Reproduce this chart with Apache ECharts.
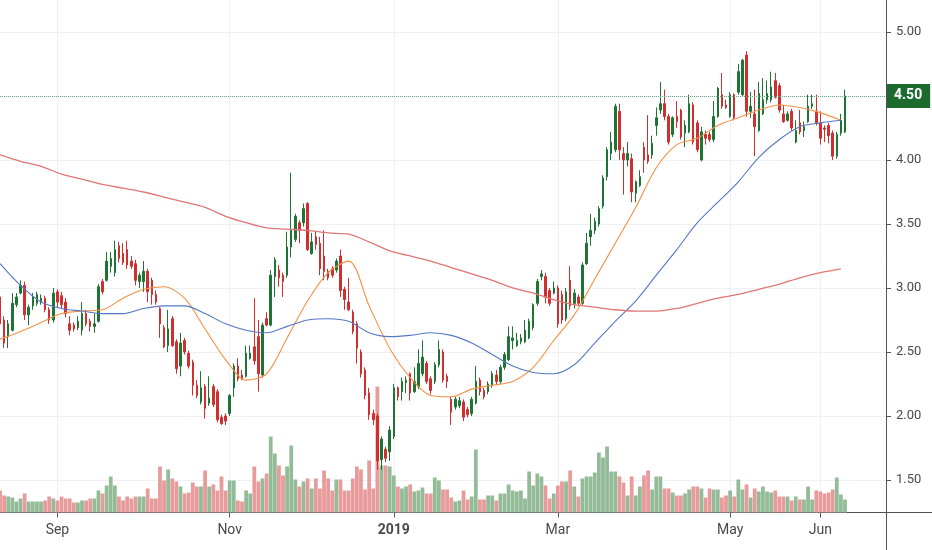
<!DOCTYPE html>
<html>
<head>
<meta charset="utf-8">
<script src="https://cdn.jsdelivr.net/npm/echarts/dist/echarts.min.js"></script>
<style>
html,body{margin:0;padding:0;background:#fff}
#chart{width:932px;height:550px}
</style>
</head>
<body>
<div id="chart"></div>
<script>
// daily bars, first one on 2018-08-14; rows are [open, high, low, close]
var startDate = '2018-08-14';
var holidays = ['2018-09-03','2018-11-22','2018-12-05','2018-12-25','2019-01-01','2019-01-21','2019-02-18','2019-04-19','2019-05-27'];
var padBars = 10;

var ohlc = [
  [2.93,2.95,2.68,2.72],[2.75,2.78,2.53,2.57],[2.62,2.75,2.53,2.72],[2.67,2.96,2.66,2.88],[2.87,2.96,2.85,2.93],
  [2.96,3.06,2.95,3.02],[3.02,3.05,2.75,2.79],[2.79,2.87,2.71,2.85],[2.86,2.96,2.83,2.93],[2.88,2.97,2.86,2.95],
  [2.89,2.95,2.87,2.92],[2.92,2.94,2.81,2.83],[2.83,2.85,2.72,2.75],[2.75,3.00,2.73,2.96],[2.97,2.99,2.85,2.89],
  [2.94,2.97,2.84,2.87],[2.89,2.92,2.77,2.80],[2.72,2.78,2.63,2.67],[2.71,2.73,2.66,2.68],[2.69,2.78,2.67,2.74],
  [2.67,2.89,2.63,2.80],[2.80,2.83,2.70,2.72],[2.74,2.76,2.66,2.70],[2.70,2.80,2.65,2.72],[2.74,3.03,2.73,3.01],
  [3.05,3.07,2.95,2.97],[3.06,3.28,3.05,3.21],[3.17,3.28,3.12,3.23],[3.12,3.37,3.09,3.30],[3.33,3.36,3.20,3.23],
  [3.27,3.35,3.18,3.20],[3.30,3.37,3.15,3.18],[3.21,3.25,3.15,3.17],[3.19,3.22,3.02,3.06],[3.05,3.12,3.00,3.10],
  [3.05,3.21,2.97,3.13],[3.13,3.15,2.89,2.97],[3.06,3.08,2.87,2.95],[2.95,2.98,2.87,2.89],[2.84,2.85,2.61,2.72],
  [2.69,2.71,2.53,2.54],[2.55,2.83,2.50,2.68],[2.76,2.78,2.54,2.55],[2.58,2.60,2.33,2.37],[2.39,2.65,2.31,2.57],
  [2.59,2.61,2.48,2.50],[2.49,2.51,2.37,2.39],[2.42,2.44,2.16,2.24],[2.24,2.28,2.14,2.16],[2.11,2.35,2.09,2.22],
  [2.23,2.25,1.98,2.06],[2.10,2.31,2.08,2.14],[2.23,2.25,2.07,2.09],[2.19,2.21,1.95,1.97],[1.99,2.01,1.93,1.94],
  [2.00,2.02,1.93,1.96],[2.02,2.17,2.00,2.16],[2.22,2.41,2.15,2.39],[2.39,2.45,2.27,2.29],[2.32,2.36,2.28,2.29],
  [2.31,2.55,2.30,2.49],[2.45,2.55,2.44,2.49],[2.54,2.92,2.40,2.43],[2.62,2.75,2.19,2.33],[2.32,2.73,2.30,2.71],
  [2.76,2.81,2.70,2.71],[2.71,3.14,2.70,3.10],[3.09,3.24,2.93,3.22],[3.14,3.18,3.01,3.08],[3.10,3.12,2.93,3.05],
  [3.10,3.44,3.08,3.32],[3.32,3.90,3.24,3.45],[3.38,3.58,3.36,3.56],[3.51,3.53,3.35,3.45],[3.51,3.66,3.48,3.62],
  [3.66,3.67,3.29,3.30],[3.27,3.43,3.26,3.36],[3.40,3.44,3.30,3.34],[3.35,3.40,3.10,3.15],[3.25,3.45,3.06,3.13],
  [3.13,3.15,3.06,3.08],[3.15,3.17,3.08,3.10],[3.14,3.23,3.12,3.21],[3.25,3.30,2.93,2.98],[2.99,3.01,2.83,2.91],
  [2.89,3.08,2.82,2.83],[2.81,2.83,2.64,2.66],[2.72,2.74,2.41,2.53],[2.50,2.52,2.30,2.33],[2.36,2.38,2.13,2.16],
  [2.18,2.22,1.97,2.01],[2.02,2.05,1.93,1.97],[2.00,2.02,1.58,1.65],[1.66,1.84,1.58,1.82],[1.74,1.76,1.64,1.67],
  [1.72,1.92,1.65,1.89],[1.84,2.25,1.82,2.22],[2.22,2.23,2.12,2.15],[2.19,2.30,2.12,2.27],[2.26,2.31,2.18,2.28],
  [2.33,2.34,2.12,2.18],[2.19,2.38,2.18,2.27],[2.23,2.52,2.21,2.41],[2.33,2.59,2.31,2.46],[2.41,2.43,2.25,2.27],
  [2.29,2.31,2.17,2.20],[2.27,2.42,2.25,2.40],[2.40,2.59,2.38,2.52],[2.50,2.52,2.26,2.28],[2.31,2.33,2.22,2.27],
  [2.13,2.15,1.93,2.03],[2.07,2.15,2.05,2.13],[2.08,2.15,2.06,2.12],[2.11,2.13,1.96,1.99],[2.05,2.07,1.99,2.01],
  [2.02,2.15,2.00,2.13],[2.10,2.39,2.09,2.27],[2.28,2.30,2.16,2.19],[2.20,2.22,2.13,2.15],[2.19,2.27,2.17,2.25],
  [2.24,2.35,2.22,2.33],[2.32,2.36,2.24,2.27],[2.27,2.40,2.25,2.38],[2.38,2.50,2.36,2.48],[2.44,2.70,2.43,2.62],
  [2.59,2.70,2.52,2.61],[2.55,2.65,2.54,2.59],[2.58,2.64,2.56,2.61],[2.58,2.75,2.57,2.67],[2.61,2.76,2.60,2.74],
  [2.69,2.88,2.67,2.87],[2.88,3.07,2.86,3.05],[3.09,3.14,3.06,3.11],[3.09,3.12,2.88,2.93],[2.98,3.00,2.86,2.88],
  [2.96,3.05,2.95,3.00],[3.00,3.02,2.69,2.72],[2.95,2.98,2.72,2.75],[2.76,3.00,2.74,2.97],[3.06,3.17,2.83,2.86],
  [2.88,2.99,2.84,2.96],[2.93,2.95,2.86,2.88],[2.88,3.20,2.87,3.18],[3.19,3.43,3.18,3.35],[3.40,3.58,3.33,3.45],
  [3.45,3.55,3.42,3.52],[3.50,3.64,3.48,3.62],[3.64,3.88,3.62,3.86],[3.87,4.10,3.84,4.08],[4.05,4.22,4.00,4.14],
  [4.08,4.44,4.06,4.42],[4.38,4.44,4.00,4.08],[4.05,4.10,3.73,4.00],[4.00,4.14,3.95,4.05],[4.01,4.05,3.67,3.75],
  [3.74,3.84,3.67,3.83],[3.80,3.92,3.79,3.87],[4.10,4.14,3.90,4.00],[4.04,4.35,3.97,3.99],[4.04,4.19,4.01,4.13],
  [4.27,4.41,4.19,4.33],[4.39,4.61,4.36,4.44],[4.44,4.55,4.31,4.34],[4.34,4.36,4.12,4.14],[4.20,4.34,4.18,4.33],
  [4.34,4.46,4.25,4.30],[4.39,4.40,4.16,4.18],[4.21,4.31,4.10,4.27],[4.22,4.51,4.21,4.44],[4.43,4.45,4.12,4.14],
  [4.29,4.31,4.06,4.08],[4.00,4.26,3.99,4.22],[4.20,4.23,4.12,4.17],[4.20,4.22,4.14,4.16],[4.16,4.46,4.14,4.34],
  [4.34,4.57,4.33,4.56],[4.51,4.68,4.40,4.42],[4.43,4.47,4.40,4.41],[4.34,4.53,4.33,4.51],[4.51,4.52,4.31,4.33],
  [4.53,4.75,4.51,4.69],[4.51,4.79,4.50,4.78],[4.82,4.85,4.34,4.38],[4.38,4.53,4.33,4.42],[4.36,4.55,4.03,4.26],
  [4.23,4.61,4.22,4.52],[4.36,4.64,4.35,4.47],[4.47,4.62,4.44,4.52],[4.47,4.69,4.45,4.57],[4.62,4.68,4.48,4.49],
  [4.58,4.60,4.37,4.39],[4.36,4.43,4.29,4.30],[4.31,4.38,4.30,4.36],[4.38,4.40,4.23,4.25],[4.14,4.31,4.13,4.23],
  [4.29,4.39,4.20,4.22],[4.23,4.30,4.18,4.26],[4.30,4.51,4.29,4.42],[4.42,4.51,4.40,4.44],[4.38,4.51,4.27,4.29],
  [4.29,4.38,4.12,4.17],[4.25,4.27,4.14,4.24],[4.27,4.29,4.13,4.19],[4.21,4.23,4.00,4.03],[4.03,4.22,4.01,4.20],
  [4.21,4.36,4.19,4.31],[4.22,4.55,4.21,4.50]
];

// volume, arbitrary units
var volume = [
  22,17,16,15,11,14,19,11,11,11, 11,12,16,14,12,16,14,14,10,10,
  12,12,14,14,22,19,27,36,27,16, 12,16,14,16,16,16,24,14,14,46,
  32,43,34,31,26,19,20,30,26,26, 42,26,28,22,36,22,32,32,12,11,
  22,19,46,31,34,39,76,59,47,37, 46,67,33,26,31,34,24,34,24,42,
  34,22,33,33,22,22,34,46,43,23, 52,24,126,47,47,46,37,26,24,26,
  28,21,22,25,19,19,35,32,23,23, 15,11,12,22,13,16,63,13,13,17,
  17,12,19,19,28,22,21,22,14,41, 27,39,36,27,14,19,27,31,31,42,
  26,16,34,36,36,40,60,55,66,41, 41,36,30,17,36,17,26,37,42,23,
  36,36,24,24,20,17,17,19,23,26, 26,24,15,24,23,23,15,17,22,16,
  33,23,28,15,24,21,26,21,20,22, 16,16,16,12,16,13,13,26,13,22,
  21,19,20,23,35,18,13
];

// moving averages read every 5 bars
var maStep = 5;
var ma20 = [2.60,2.66,2.73,2.80,2.82,2.83,2.92,2.99,3.01,2.92,2.68,2.44,2.28,2.33,2.61,2.90,3.12,3.21,2.86,2.53,2.30,
            2.16,2.15,2.21,2.24,2.27,2.38,2.59,2.79,3.07,3.35,3.63,3.94,4.12,4.17,4.27,4.33,4.39,4.43,4.41,4.37,4.31];
var ma50 = [3.19,3.02,2.89,2.84,2.82,2.80,2.80,2.84,2.86,2.86,2.80,2.72,2.67,2.65,2.70,2.75,2.76,2.74,2.65,2.62,2.63,
            2.65,2.63,2.57,2.48,2.39,2.34,2.33,2.40,2.57,2.74,2.90,3.10,3.30,3.51,3.67,3.83,4.02,4.16,4.26,4.29,4.31];
var ma200 = [4.04,3.99,3.95,3.89,3.85,3.81,3.78,3.75,3.71,3.67,3.63,3.56,3.51,3.47,3.46,3.45,3.43,3.42,3.36,3.29,3.25,
             3.21,3.16,3.11,3.06,3.00,2.96,2.91,2.87,2.85,2.83,2.82,2.82,2.84,2.88,2.92,2.95,2.99,3.03,3.08,3.12,3.15];

var tickMonths = ['2018-09','2018-11','2019-01','2019-03','2019-05','2019-06'];
var tickLabels = ['Sep','Nov','2019','Mar','May','Jun'];

var upColor = '#1d7434', downColor = '#cf2f2f';
var volUp = '#93bb98', volDown = '#e79b9b';

function tradingDays(start, n) {
  var out = [], d = new Date(start + 'T00:00:00Z');
  while (out.length < n) {
    var s = d.toISOString().slice(0, 10), wd = d.getUTCDay();
    if (wd !== 0 && wd !== 6 && holidays.indexOf(s) < 0) out.push(s);
    d.setUTCDate(d.getUTCDate() + 1);
  }
  return out;
}

var dates = tradingDays(startDate, ohlc.length + padBars);

// first bar of each labelled month
var tickAt = {};
tickMonths.forEach(function (m, k) {
  for (var i = 0; i < dates.length; i++) {
    if (dates[i].slice(0, 7) === m) { tickAt[i] = tickLabels[k]; break; }
  }
});
function isTick(idx) { return tickAt[idx] !== undefined; }

function maData(vals) {
  var d = [];
  for (var i = 0; i < ohlc.length; i++) d.push(null);
  vals.forEach(function (v, k) { d[k * maStep] = v; });
  return d;
}

var candleData = ohlc.map(function (r) { return [r[0], r[3], r[2], r[1]]; });
var volData = volume.map(function (v, i) {
  return { value: v, itemStyle: { color: ohlc[i][3] >= ohlc[i][0] ? volUp : volDown } };
});
var lastClose = ohlc[ohlc.length - 1][3];

var myChart = echarts.init(document.getElementById('chart'));
var font = 'Roboto, "Noto Sans", sans-serif';

var option = {
  animation: false,
  backgroundColor: '#fff',
  textStyle: { fontFamily: font },
  grid: { left: 0, right: 46, top: 0, bottom: 37.5 },
  xAxis: {
    type: 'category',
    data: dates,
    boundaryGap: false,
    axisLine: { lineStyle: { color: '#555' } },
    axisTick: { interval: function (i) { return isTick(i); }, length: 5, lineStyle: { color: '#555' } },
    axisLabel: {
      interval: function (i) { return isTick(i); },
      formatter: function (v, i) {
        var t = tickAt[i] || '';
        return /^\d{4}$/.test(t) ? '{y|' + t + '}' : t;
      },
      color: '#4a4a4a', fontSize: 14, margin: 11, fontFamily: font,
      rich: { y: { fontWeight: 'bold', fontSize: 14, color: '#4a4a4a', fontFamily: font } }
    },
    splitLine: { show: true, interval: function (i) { return isTick(i); }, lineStyle: { color: '#eef0f3' } }
  },
  yAxis: [{
    type: 'value',
    position: 'right',
    min: 1.246, max: 5.25,
    minInterval: 0.5, maxInterval: 0.5,
    axisLine: { show: true, lineStyle: { color: '#555' } },
    axisTick: { show: true, length: 5, lineStyle: { color: '#555' } },
    axisLabel: {
      color: '#4a4a4a', fontSize: 13, margin: 10, fontFamily: font,
      showMinLabel: false, showMaxLabel: false,
      formatter: function (v) { return v.toFixed(2); }
    },
    splitLine: { lineStyle: { color: '#eef0f3' }, showMinLine: false, showMaxLine: false }
  }, {
    type: 'value', min: 0, max: 512.5, show: false
  }],
  graphic: [
    { type: 'line', silent: true, shape: { x1: 886.5, y1: 512, x2: 886.5, y2: 550 }, style: { stroke: '#555', lineWidth: 1 } },
    { type: 'line', silent: true, shape: { x1: 886, y1: 512.5, x2: 932, y2: 512.5 }, style: { stroke: '#555', lineWidth: 1 } }
  ],
  series: [{
    name: 'Volume', type: 'bar', yAxisIndex: 1, data: volData,
    barCategoryGap: '8%', z: 1
  }, {
    name: 'Price', type: 'candlestick', data: candleData, barWidth: 2, z: 3,
    itemStyle: { color: upColor, color0: downColor, borderColor: upColor, borderColor0: downColor, borderWidth: 1 },
    markLine: {
      symbol: 'none', silent: true, animation: false,
      lineStyle: { color: '#6aa88a', type: 'dotted', width: 1 },
      label: {
        position: 'end', distance: 1,
        formatter: function (p) { return p.value.toFixed(2); },
        backgroundColor: '#1c6a2e', color: '#fff', fontWeight: 'bold', fontSize: 14,
        fontFamily: font, padding: [5, 8, 5, 7]
      },
      data: [{ yAxis: lastClose }]
    }
  }, {
    name: 'MA20', type: 'line', data: maData(ma20), connectNulls: true, showSymbol: false, smooth: 0.3, z: 4,
    lineStyle: { color: '#f39144', width: 1.1 }
  }, {
    name: 'MA50', type: 'line', data: maData(ma50), connectNulls: true, showSymbol: false, smooth: 0.3, z: 4,
    lineStyle: { color: '#5679c4', width: 1.1 }
  }, {
    name: 'MA200', type: 'line', data: maData(ma200), connectNulls: true, showSymbol: false, smooth: 0.3, z: 4,
    lineStyle: { color: '#e07575', width: 1.3 }
  }]
};

myChart.setOption(option);
</script>
</body>
</html>
